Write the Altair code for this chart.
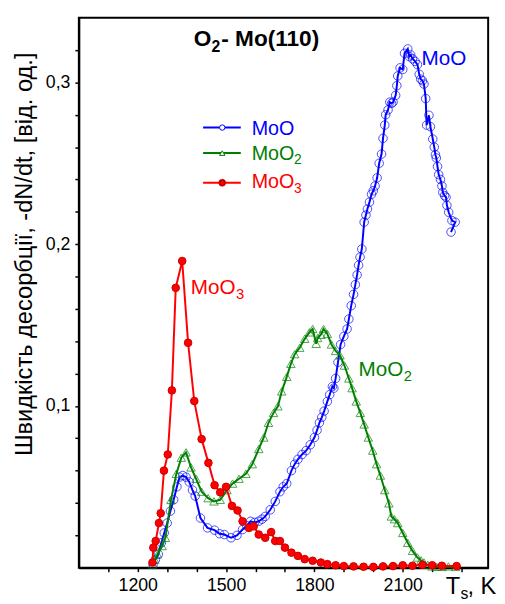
import altair as alt
import pandas as pd

# ---------------- data ----------------
moo_T = [1252, 1260, 1270, 1280, 1290, 1300, 1311, 1322, 1333, 1342, 1353, 1364, 1375, 1386, 1395,
         1413, 1437, 1461, 1478, 1494, 1517, 1537, 1556, 1570, 1583, 1597, 1611, 1622, 1633, 1650,
         1667, 1683, 1694, 1706, 1722, 1733, 1744, 1758, 1772, 1786, 1800, 1809, 1817, 1825, 1833,
         1844, 1852, 1861, 1866, 1872, 1880, 1889, 1900, 1911, 1917, 1925, 1933, 1939, 1945, 1950,
         1955, 1961, 1969, 1975, 1980, 1987, 1994, 2000, 2006, 2013, 2020, 2028, 2033, 2039, 2042,
         2050, 2056, 2062, 2067, 2076, 2080, 2083, 2091, 2100, 2106, 2117, 2122, 2127, 2133, 2142,
         2150, 2156, 2161, 2167, 2172, 2178, 2181, 2189, 2194, 2202, 2207, 2211, 2214, 2218, 2222,
         2228, 2233, 2236, 2242, 2247, 2250, 2256, 2267, 2278, 2264]
moo_v = [0.002, 0.005, 0.0083, 0.0154, 0.0215, 0.0276, 0.035, 0.042, 0.050, 0.056, 0.057, 0.056, 0.053, 0.048, 0.0443,
         0.0307, 0.0246, 0.0232, 0.021, 0.0205, 0.0185, 0.020, 0.0236, 0.026, 0.0287, 0.028, 0.0287, 0.030, 0.0317, 0.0358,
         0.041, 0.047, 0.050, 0.052, 0.060, 0.064, 0.067, 0.070, 0.0724, 0.076, 0.0805, 0.085, 0.0896, 0.093, 0.0968,
         0.1028, 0.107, 0.112, 0.111, 0.117, 0.127, 0.138, 0.143, 0.1476, 0.1537, 0.162, 0.169, 0.175, 0.181, 0.187,
         0.192, 0.197, 0.2136, 0.218, 0.2217, 0.226, 0.2309, 0.233, 0.236, 0.241, 0.250, 0.2557, 0.2654, 0.2736, 0.280,
         0.283, 0.2878, 0.287, 0.2878, 0.292, 0.298, 0.304, 0.309, 0.308, 0.318, 0.3207, 0.316, 0.317, 0.3146, 0.313,
         0.311, 0.305, 0.302, 0.301, 0.299, 0.290, 0.2736, 0.2797, 0.2726, 0.265, 0.260, 0.2553, 0.2533, 0.248, 0.243,
         0.240, 0.236, 0.232, 0.230, 0.229, 0.224, 0.2197, 0.2146, 0.2136, 0.2075]

moo2_T = [1250, 1258, 1267, 1283, 1294, 1313, 1331, 1348, 1364, 1381, 1398, 1417, 1439, 1459, 1480,
          1503, 1522, 1544, 1567, 1589, 1611, 1628, 1644, 1661, 1676, 1689, 1706, 1720, 1733, 1750,
          1767, 1783, 1794, 1806, 1811, 1822, 1831, 1844, 1858, 1872, 1887, 1902, 1917, 1928, 1942,
          1956, 1969, 1983, 1998, 2011, 2024, 2039, 2053, 2061, 2072, 2083, 2100, 2117, 2133, 2150,
          2162, 2172, 2185, 2200, 2215, 2233, 2255, 2280]
moo2_v = [0.002, 0.005, 0.0083, 0.0134, 0.0185, 0.0419, 0.058, 0.068, 0.0713, 0.062, 0.055, 0.047, 0.043, 0.041, 0.042,
          0.048, 0.052, 0.055, 0.058, 0.064, 0.0734, 0.0805, 0.0896, 0.0957, 0.0998, 0.109, 0.118, 0.126, 0.132, 0.136,
          0.1415, 0.1455, 0.1476, 0.1384, 0.142, 0.144, 0.1476, 0.1445, 0.138, 0.134, 0.1313, 0.125, 0.117, 0.111, 0.1028,
          0.0957, 0.0886, 0.0805, 0.0724, 0.064, 0.057, 0.048, 0.0398, 0.0317, 0.030, 0.0276, 0.0215, 0.0154, 0.0104, 0.0063,
          0.0045, 0.0032, 0.0018, 0.0008, 0.0006, 0.0005, 0.0008, 0.0005]

moo3_T = [1250, 1253, 1261, 1272, 1278, 1289, 1302, 1316, 1329, 1351, 1371, 1392, 1417, 1440, 1461,
          1480, 1500, 1520, 1539, 1556, 1578, 1594, 1611, 1633, 1653, 1667, 1683, 1700, 1722, 1744,
          1767, 1794, 1822, 1844, 1872, 1900, 1933, 1967, 2000, 2033, 2067, 2100, 2133, 2167, 2200,
          2233, 2283]
moo3_v = [0.0032, 0.0124, 0.0165, 0.0276, 0.0337, 0.060, 0.070, 0.1096, 0.173, 0.1896, 0.139, 0.103, 0.0795, 0.0648, 0.051,
          0.0466, 0.050, 0.0382, 0.0354, 0.0287, 0.0246, 0.0256, 0.0205, 0.0185, 0.022, 0.0165, 0.0165, 0.0124, 0.0093, 0.0073,
          0.0053, 0.0043, 0.0032, 0.0022, 0.0015, 0.001, 0.0008, 0.0006, 0.0005, 0.0008, 0.001, 0.0015, 0.0012, 0.0018, 0.0015,
          0.0012, 0.001]

x_ticks = [1100, 1200, 1300, 1400, 1500, 1600, 1700, 1800, 1900, 2000, 2100, 2200, 2300]
y_ticks = [0.02, 0.04, 0.06, 0.08, 0.10, 0.12, 0.14, 0.16, 0.18, 0.20, 0.22, 0.24, 0.26, 0.28, 0.30, 0.32]

BLUE, GREEN, RED = "#0000ff", "#008000", "#ff0000"
FONT = "Liberation Sans"

xs = alt.Scale(domain=[1000, 2390], nice=False, zero=False)
ys = alt.Scale(domain=[0, 0.34], nice=False, zero=False)

X_AXIS = alt.Axis(
    values=x_ticks, title=None, grid=False, labelOverlap=False,
    labelExpr="datum.value % 300 == 0 ? format(datum.value, 'd') : ''",
)
Y_AXIS = alt.Axis(
    values=y_ticks, grid=False, labelOverlap=False,
    title="Швидкість десорбції, -dN/dt, [від. од.]",
    titleX=-55, titleY=240, titleAngle=270, titleAlign="center", titleBaseline="middle",
    labelExpr="abs(datum.value*10 - round(datum.value*10)) < 0.001 ? replace(format(datum.value, '.1f'), '.', ',') : ''",
)
xenc = alt.X("T:Q", scale=xs, axis=X_AXIS)
yenc = alt.Y("v:Q", scale=ys, axis=Y_AXIS)


def series_df(T, v):
    return pd.DataFrame({"T": T, "v": v, "i": list(range(len(T)))})


layers = []
for T, v, col, pt in [
    (moo_T, moo_v, BLUE, dict(shape="circle", filled=False, color=BLUE, size=75, strokeWidth=1)),
    (moo2_T, moo2_v, GREEN, dict(shape="triangle-up", filled=False, color=GREEN, size=75, strokeWidth=1)),
    (moo3_T, moo3_v, RED, dict(shape="circle", filled=True, size=60, fill=RED, stroke="#c80000", strokeWidth=1, opacity=1)),
]:
    df = series_df(T, v)
    base = alt.Chart(df)
    layers.append(base.mark_line(color=col, strokeWidth=2).encode(x=xenc, y=yenc, order="i:Q"))
    layers.append(base.mark_point(**pt).encode(x=xenc, y=yenc))


def txt(x, y, s, color, size, dx=0, dy=0, weight="normal"):
    d = pd.DataFrame({"T": [x], "v": [y], "t": [s]})
    return alt.Chart(d).mark_text(
        align="left", baseline="alphabetic", color=color, fontSize=size, dx=dx, dy=dy,
        font=FONT, fontWeight=weight,
    ).encode(x=xenc, y=yenc, text="t:N")


# curve labels
layers += [
    txt(2164, 0.3108, "MoO", BLUE, 21),
    txt(1950, 0.1183, "MoO", GREEN, 21), txt(1950, 0.1183, "2", GREEN, 15, dx=46, dy=5),
    txt(1380, 0.1689, "MoO", RED, 21), txt(1380, 0.1689, "3", RED, 15, dx=46, dy=5),
]

# chart title
layers += [
    txt(1390, 0.3226, "O", "black", 23, weight="bold"),
    txt(1390, 0.3226, "2", "black", 16, dx=18, dy=6, weight="bold"),
    txt(1390, 0.3226, "- Mo(110)", "black", 23, dx=28, weight="bold"),
]

# axis title T_s, K
layers += [
    txt(2246, -0.0165, "T", "black", 24),
    txt(2246, -0.0165, "s", "black", 16, dx=15, dy=5),
    txt(2246, -0.0165, ", K", "black", 24, dx=22),
]

# legend
leg_rows = [(0.2721, 0.2675, BLUE, None, dict(shape="circle", filled=True, fill="white", stroke=BLUE, size=30, strokeWidth=1, opacity=1)),
            (0.2563, 0.2523, GREEN, "2", dict(shape="triangle-up", filled=True, fill="white", stroke=GREEN, size=30, strokeWidth=1, opacity=1)),
            (0.2380, 0.2346, RED, "3", dict(shape="circle", filled=True, size=30, fill=RED, stroke="#c80000", opacity=1))]
for ly, ty, col, sub, pt in leg_rows:
    seg = pd.DataFrame({"T": [1422], "T2": [1550], "v": [ly]})
    layers.append(alt.Chart(seg).mark_rule(color=col, strokeWidth=2).encode(
        x=xenc, x2="T2:Q", y=yenc))
    mk = pd.DataFrame({"T": [1487], "v": [ly]})
    layers.append(alt.Chart(mk).mark_point(**pt).encode(x=xenc, y=yenc))
    layers.append(txt(1587, ty, "MoO", col, 20))
    if sub:
        layers.append(txt(1587, ty, sub, col, 14, dx=43, dy=5))

chart = alt.layer(*layers).properties(
    width=416, height=559,
    autosize=alt.AutoSizeParams(type="none"),
    padding={"left": 72, "top": 5, "right": 9, "bottom": 31},
    background="white",
).configure_view(
    stroke="black", strokeWidth=2,
).configure_axis(
    labelFont=FONT, labelFontSize=18, labelColor="black", labelOverlap=False,
    titleFont=FONT, titleFontSize=24, titleFontWeight="normal", titleColor="black",
    domainColor="black", domainWidth=2, tickColor="black", tickWidth=1.5, tickSize=4,
    labelPadding=5,
)

chart.save("out.html", embed_options={"renderer": "svg", "actions": False})
